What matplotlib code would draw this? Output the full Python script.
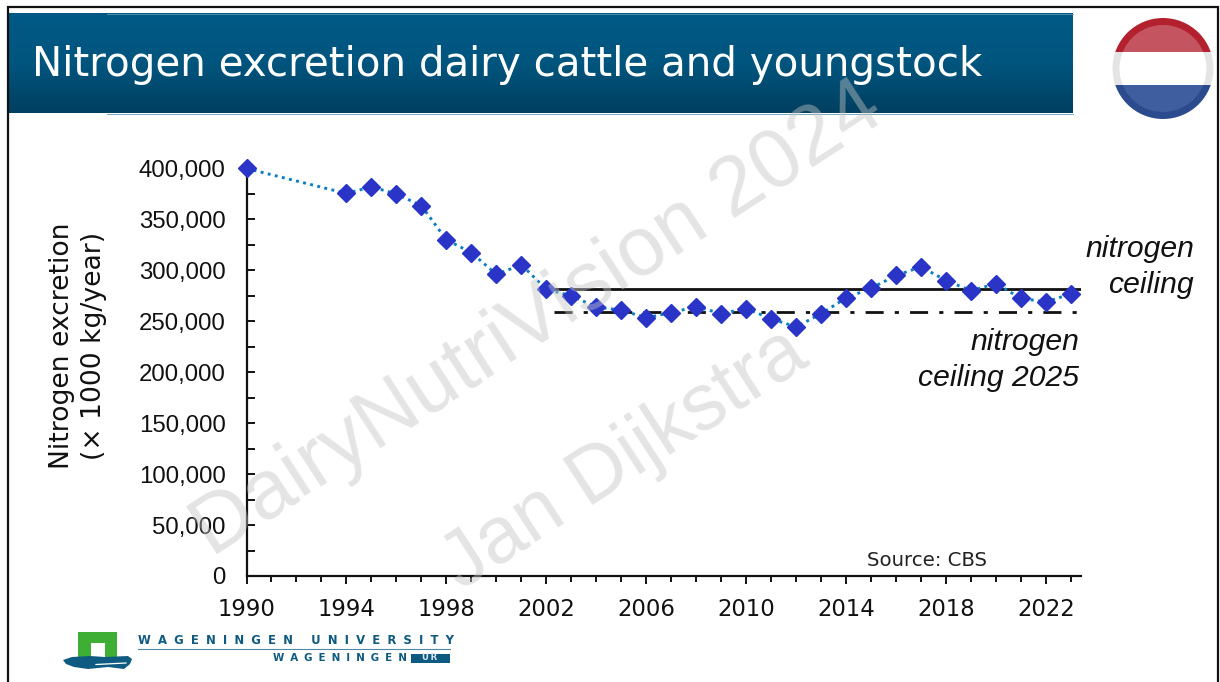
#!/usr/bin/env python3
from __future__ import annotations

import matplotlib

matplotlib.use("Agg")
import matplotlib.pyplot as plt
import numpy as np
from matplotlib.colors import LinearSegmentedColormap
from matplotlib.patches import Circle, Polygon, Rectangle
from matplotlib.ticker import FixedLocator, FuncFormatter, MultipleLocator

WIDTH, HEIGHT = 1220, 682

YEARS = [1990, 1994, 1995, 1996, 1997, 1998, 1999, 2000, 2001, 2002, 2003, 2004,
         2005, 2006, 2007, 2008, 2009, 2010, 2011, 2012, 2013, 2014, 2015, 2016,
         2017, 2018, 2019, 2020, 2021, 2022, 2023]
EXCRETION = [400000, 375500, 382000, 375000, 363500, 330000, 317500, 296000,
             305500, 281500, 275000, 264000, 261000, 253500, 258500, 264500,
             257500, 262500, 252500, 244500, 257500, 273000, 282500, 295000,
             303500, 290000, 280000, 287000, 272500, 269000, 277000]
YEAR_TICKS = [1990, 1994, 1998, 2002, 2006, 2010, 2014, 2018, 2022]
CEILING = 282000
CEILING_2025 = 259000
CEILING_START = 2002.3
YEAR_MIN, YEAR_MAX = 1990, 2023.4
Y_MAX = 400000


def px_rect(x0: float, y0: float, x1: float, y1: float) -> list[float]:
    """Figure-fraction rectangle from pixel corners (y measured from the top)."""
    return [x0 / WIDTH, 1 - y1 / HEIGHT, (x1 - x0) / WIDTH, (y1 - y0) / HEIGHT]


def spaced(text: str, gap: str = "\u2009") -> str:
    return gap.join(text)


def draw_banner(ax: plt.Axes) -> None:
    cmap = LinearSegmentedColormap.from_list("banner", ["#005a85", "#00557e", "#003f60"])
    gradient = np.linspace(0, 1, 128).reshape(-1, 1)
    ax.imshow(gradient, cmap=cmap, extent=(8, 1073, 113.5, 14), aspect="auto", zorder=1)
    ax.plot([107, 1073], [14.3, 14.3], color="#5f9ab2", lw=0.6, zorder=2)
    ax.plot([107, 1073], [113.5, 113.5], color="#5f9ab2", lw=0.6, zorder=2)
    ax.text(32, 65, "Nitrogen excretion dairy cattle and youngstock", color="white",
            fontsize=29.1, family="DejaVu Sans", ha="left", va="center", zorder=3)


def draw_flag(ax: plt.Axes) -> None:
    cx, cy = 1163, 68.5
    bands = [
        (10, 52, "#b3202e", "#c4545f"),
        (52, 85, "#e4e4e6", "#ffffff"),
        (85, 127, "#2c4a8e", "#3f5e9f"),
    ]
    for y0, y1, outer, inner in bands:
        for radius, color in ((50.5, outer), (43.5, inner)):
            clip = Circle((cx, cy), radius, transform=ax.transData)
            rect = Rectangle((cx - 60, y0), 120, y1 - y0, color=color, lw=0, zorder=2)
            ax.add_patch(rect)
            rect.set_clip_path(clip)


def draw_logo(ax: plt.Axes) -> None:
    green = "#3fae35"
    blue = "#0f5a80"
    ax.add_patch(Rectangle((78, 632), 39, 25, color=green, lw=0, zorder=2))
    ax.add_patch(Rectangle((91, 643), 14, 14, color="white", lw=0, zorder=3))
    ax.add_patch(Polygon(
        [(72, 657), (90, 656), (105, 657), (128, 656), (132, 659), (130, 664), (124, 669),
         (108, 667), (88, 669), (74, 667), (66, 664), (63, 660)],
        closed=True, color=blue, lw=0, zorder=3,
    ))
    ax.plot([96, 126], [664.5, 663], color="white", lw=0.9, zorder=4)
    ax.text(138, 640, spaced("WAGENINGEN UNIVERSITY", "\u2009\u2009\u2009"), color=blue, fontsize=8.4,
            family="DejaVu Sans", weight="bold", ha="left", va="center", zorder=3)
    ax.plot([138, 450], [648.5, 648.5], color="#4f8aa5", lw=0.8, zorder=3)
    ax.text(273, 658, spaced("WAGENINGEN", "\u2009\u2009\u2009"), color=blue, fontsize=7.4,
            family="DejaVu Sans", weight="bold", ha="left", va="center", zorder=3)
    ax.add_patch(Rectangle((411, 654), 39, 8.5, color=blue, lw=0, zorder=3))
    ax.text(430, 658, spaced("UR"), color="#d8e6ee", fontsize=6.2,
            family="DejaVu Sans", weight="bold", ha="center", va="center", zorder=4)


def draw_frame(ax: plt.Axes) -> None:
    ax.plot([8, 8, 1218, 1218], [682, 7, 7, 682], color="#111111", lw=1.6, zorder=5,
            solid_joinstyle="miter")


def draw_chart(ax: plt.Axes) -> None:
    ax.patch.set_alpha(0)
    ax.plot(YEARS, EXCRETION, color="#0b7fc0", lw=2.1, ls=(0, (1, 1.5)), zorder=3, clip_on=False)
    ax.plot(YEARS, EXCRETION, ls="none", marker="D", ms=9.4, color="#2a35c8",
            mec="#2a35c8", zorder=4, clip_on=False)
    ax.plot([CEILING_START, YEAR_MAX], [CEILING, CEILING], color="#111111", lw=2.0, zorder=2)
    ax.plot([CEILING_START, YEAR_MAX], [CEILING_2025, CEILING_2025], color="#111111", lw=2.0,
            ls=(0, (6.5, 4, 1.5, 4)), zorder=2)

    ax.set_xlim(YEAR_MIN, YEAR_MAX)
    ax.set_ylim(0, Y_MAX)
    for side in ("top", "right"):
        ax.spines[side].set_visible(False)
    for side in ("left", "bottom"):
        ax.spines[side].set_linewidth(1.6)
        ax.spines[side].set_color("#111111")

    ax.xaxis.set_major_locator(FixedLocator(YEAR_TICKS))
    ax.xaxis.set_minor_locator(MultipleLocator(1))
    ax.yaxis.set_major_locator(MultipleLocator(50000))
    ax.yaxis.set_minor_locator(MultipleLocator(25000))
    ax.yaxis.set_major_formatter(FuncFormatter(lambda v, _: f"{int(v):,}"))
    ax.tick_params(axis="x", which="major", direction="out", length=6, width=1.4, pad=9.5,
                   labelsize=16.4, labelcolor="#111111", color="#111111")
    ax.tick_params(axis="x", which="minor", direction="out", length=4.2, width=1.4, color="#111111")
    ax.tick_params(axis="y", which="both", direction="in", length=5.5, width=1.4, color="#111111")
    ax.tick_params(axis="y", which="major", pad=15, labelsize=17.3, labelcolor="#111111")
    for label in ax.get_yticklabels():
        label.set_family("Liberation Sans")


def draw_labels(ax: plt.Axes) -> None:
    ax.text(62, 346, "Nitrogen excretion", rotation=90, fontsize=19.2, family="DejaVu Sans",
            ha="center", va="center", color="#111111", zorder=6)
    ax.text(94, 346, "(× 1000 kg/year)", rotation=90, fontsize=19.2, family="DejaVu Sans",
            ha="center", va="center", color="#111111", zorder=6)
    note = {"fontsize": 21.7, "family": "Liberation Sans", "style": "italic", "ha": "right",
            "va": "center", "color": "#111111", "zorder": 6}
    ax.text(1194, 249, "nitrogen", **note)
    ax.text(1194, 285, "ceiling", **note)
    ax.text(1079, 342, "nitrogen", **note)
    ax.text(1079, 378, "ceiling 2025", **note)
    ax.text(867, 561, "Source: CBS", fontsize=14.2, family="DejaVu Sans", ha="left", va="center",
            color="#222222", zorder=6)


def draw_watermark(ax: plt.Axes) -> None:
    style = {"color": "#c4c4c4", "alpha": 0.45, "family": "Liberation Sans", "ha": "center",
             "va": "center", "rotation": 33, "rotation_mode": "anchor", "zorder": 5}
    ax.text(538, 320, "DairyNutriVision 2024", fontsize=60, **style)
    ax.text(625, 460, "Jan Dijkstra", fontsize=57.6, **style)


def main() -> int:
    fig = plt.figure(figsize=(WIDTH / 100, HEIGHT / 100), dpi=100, facecolor="white")

    page = fig.add_axes([0, 0, 1, 1], zorder=0)
    draw_banner(page)
    draw_flag(page)
    draw_logo(page)
    draw_frame(page)
    page.set_xlim(0, WIDTH)
    page.set_ylim(HEIGHT, 0)
    page.axis("off")

    chart = fig.add_axes(px_rect(246.5, 168.5, 1081, 576), zorder=1)
    draw_chart(chart)

    overlay = fig.add_axes([0, 0, 1, 1], zorder=2)
    overlay.patch.set_alpha(0)
    overlay.set_xlim(0, WIDTH)
    overlay.set_ylim(HEIGHT, 0)
    overlay.axis("off")
    draw_labels(overlay)
    draw_watermark(overlay)

    fig.savefig("out.png", dpi=100)
    plt.close(fig)
    return 0


if __name__ == "__main__":
    raise SystemExit(main())
